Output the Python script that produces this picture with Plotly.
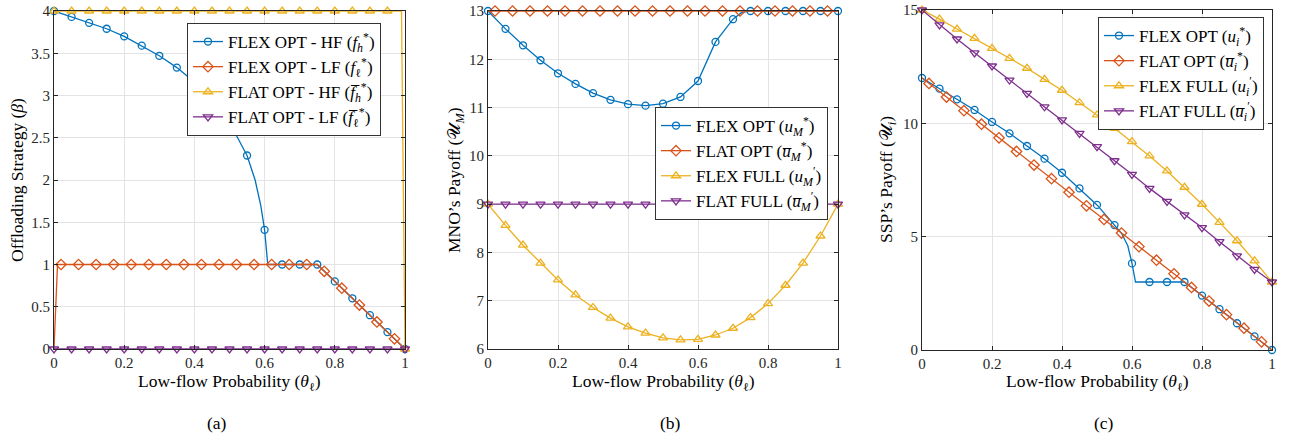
import plotly.graph_objects as go

# ---------------- data ----------------
THETA = [0.0, 0.05, 0.1, 0.15, 0.2, 0.25, 0.3, 0.35, 0.4, 0.45, 0.5,
         0.55, 0.6, 0.65, 0.7, 0.75, 0.8, 0.85, 0.9, 0.95, 1.0]
THETA_OFF = [0.02, 0.07, 0.12, 0.17, 0.22, 0.27, 0.32, 0.37, 0.42, 0.47,
             0.52, 0.57, 0.62, 0.67, 0.72, 0.77, 0.82, 0.87, 0.92, 0.97]

# (a) offloading strategy
a_flex_hf_mk = [4.00, 3.93, 3.86, 3.79, 3.70, 3.59, 3.47, 3.33, 3.16, 2.95, 2.68,
                2.29, 1.41, 1.00, 1.00, 1.00, 0.80, 0.60, 0.40, 0.20, 0.00]
a_flex_hf_line_x = [0.0, 0.05, 0.1, 0.15, 0.2, 0.25, 0.3, 0.35, 0.4, 0.45, 0.5,
                    0.55, 0.573, 0.589, 0.6, 0.609, 0.75, 1.0]
a_flex_hf_line_y = [4.00, 3.93, 3.86, 3.79, 3.70, 3.59, 3.47, 3.33, 3.16, 2.95, 2.68,
                    2.29, 2.00, 1.70, 1.41, 1.00, 1.00, 0.00]
a_flex_lf_mk = [1, 1, 1, 1, 1, 1, 1, 1, 1, 1, 1, 1, 1, 1, 1,
                0.92, 0.72, 0.52, 0.32, 0.12]
a_flex_lf_line_x = [0.0, 0.01, 0.75, 1.0]
a_flex_lf_line_y = [0.0, 1.0, 1.0, 0.0]
a_flat_hf_mk_x = [0.0, 0.05, 0.1, 0.15, 0.2, 0.25, 0.3, 0.35, 0.4, 0.45, 0.5,
                  0.55, 0.6, 0.65, 0.7, 0.75, 0.8, 0.85, 0.9, 0.95, 1.0]
a_flat_hf_mk = [4] * 20 + [0]
a_flat_hf_line_x = [0.0, 0.99, 1.0]
a_flat_hf_line_y = [4.0, 4.0, 0.0]
a_flat_lf_mk = [0] * 21

# (b) MNO's payoff
b_flex_opt_mk = [13.0, 12.63, 12.29, 11.98, 11.71, 11.49, 11.30, 11.16, 11.07, 11.04,
                 11.08, 11.22, 11.55, 12.36, 12.83, 13.0, 13.0, 13.0, 13.0, 13.0, 13.0]
b_flex_opt_line_x = [0.0, 0.05, 0.1, 0.15, 0.2, 0.25, 0.3, 0.35, 0.4, 0.45, 0.5,
                     0.55, 0.6, 0.65, 0.7, 0.725, 0.75, 1.0]
b_flex_opt_line_y = [13.0, 12.63, 12.29, 11.98, 11.71, 11.49, 11.30, 11.16, 11.07, 11.04,
                     11.08, 11.22, 11.55, 12.36, 12.83, 12.97, 13.0, 13.0]
b_flat_opt_mk = [13.0] * 20
b_flat_opt_line_x = [0.0, 1.0]
b_flat_opt_line_y = [13.0, 13.0]
b_flex_full = [9.0, 8.56, 8.15, 7.78, 7.43, 7.12, 6.86, 6.64, 6.46, 6.33, 6.23,
               6.19, 6.20, 6.29, 6.43, 6.65, 6.94, 7.32, 7.78, 8.34, 9.0]
b_flat_full = [9.0] * 21

# (c) SSP's payoff
c_flex_opt_mk = [12.0, 11.53, 11.06, 10.59, 10.06, 9.56, 9.0, 8.44, 7.82, 7.13, 6.40,
                 5.51, 3.82, 3.0, 3.0, 3.0, 2.40, 1.80, 1.18, 0.60, 0.0]
c_flex_opt_line_x = [0.0, 0.05, 0.1, 0.15, 0.2, 0.25, 0.3, 0.35, 0.4, 0.45, 0.5,
                     0.55, 0.57, 0.588, 0.6, 0.61, 0.75, 1.0]
c_flex_opt_line_y = [12.0, 11.53, 11.06, 10.59, 10.06, 9.56, 9.0, 8.44, 7.82, 7.13, 6.40,
                     5.51, 5.15, 4.6, 3.82, 3.0, 3.0, 0.0]
c_flat_opt_mk = [11.76, 11.16, 10.56, 9.96, 9.36, 8.76, 8.16, 7.56, 6.96, 6.36,
                 5.76, 5.16, 4.56, 3.96, 3.36, 2.76, 2.16, 1.56, 0.96, 0.36]
c_flat_opt_line_x = [0.0, 1.0]
c_flat_opt_line_y = [12.0, 0.0]
c_flex_full = [15.0, 14.6, 14.16, 13.75, 13.31, 12.87, 12.43, 11.94, 11.46, 10.91, 10.37,
               9.78, 9.19, 8.56, 7.90, 7.18, 6.43, 5.63, 4.82, 3.93, 3.0]
c_flat_full = [15.0, 14.34, 13.72, 13.11, 12.53, 11.91, 11.32, 10.73, 10.15, 9.56, 8.97,
               8.35, 7.75, 7.13, 6.56, 5.96, 5.40, 4.78, 4.15, 3.56, 3.0]

BLUE, ORANGE, YELLOW, PURPLE = "#0072BD", "#D95319", "#EDB120", "#7E2F8E"
SYM = {BLUE: ("circle-open", 7), ORANGE: ("diamond-open", 8),
       YELLOW: ("triangle-up-open", 8), PURPLE: ("triangle-down-open", 8)}

FONT = "'Liberation Serif', 'Times New Roman', serif"
LW = 1.3

fig = go.Figure()


def add_series(ax, legend, name, color, lx, ly, mx, my):
    xa = "x" if ax == 1 else f"x{ax}"
    ya = "y" if ax == 1 else f"y{ax}"
    sym, size = SYM[color]
    fig.add_trace(go.Scatter(x=lx, y=ly, mode="lines", xaxis=xa, yaxis=ya,
                             line=dict(color=color, width=LW), showlegend=False,
                             hoverinfo="skip"))
    fig.add_trace(go.Scatter(x=mx, y=my, mode="markers", xaxis=xa, yaxis=ya,
                             marker=dict(symbol=sym, size=size, color=color,
                                         line=dict(width=1.3, color=color)),
                             cliponaxis=False, showlegend=False))
    fig.add_trace(go.Scatter(x=[None], y=[None], mode="lines+markers", xaxis=xa, yaxis=ya,
                             name=name, legend=legend,
                             line=dict(color=color, width=LW),
                             marker=dict(symbol=sym, size=size, color=color,
                                         line=dict(width=1.3, color=color))))


# (a)
add_series(1, "legend", "FLEX OPT - HF (<i>f</i><sub><i>h</i></sub><sup>*</sup>)", BLUE,
           a_flex_hf_line_x, a_flex_hf_line_y, THETA, a_flex_hf_mk)
add_series(1, "legend", "FLEX OPT - LF (<i>f</i><sub>ℓ</sub><sup>*</sup>)", ORANGE,
           a_flex_lf_line_x, a_flex_lf_line_y, THETA_OFF, a_flex_lf_mk)
add_series(1, "legend", "FLAT OPT - HF (<i>f̅</i><sub><i>h</i></sub><sup>*</sup>)", YELLOW,
           a_flat_hf_line_x, a_flat_hf_line_y, a_flat_hf_mk_x, a_flat_hf_mk)
add_series(1, "legend", "FLAT OPT - LF (<i>f̅</i><sub>ℓ</sub><sup>*</sup>)", PURPLE,
           THETA, a_flat_lf_mk, THETA, a_flat_lf_mk)

# (b)
add_series(2, "legend2", "FLEX OPT (<i>u</i><sub><i>M</i></sub><sup>*</sup>)", BLUE,
           b_flex_opt_line_x, b_flex_opt_line_y, THETA, b_flex_opt_mk)
add_series(2, "legend2", "FLAT OPT (<i>u̅</i><sub><i>M</i></sub><sup>*</sup>)", ORANGE,
           b_flat_opt_line_x, b_flat_opt_line_y, THETA_OFF, b_flat_opt_mk)
add_series(2, "legend2", "FLEX FULL (<i>u</i><sub><i>M</i></sub><sup>′</sup>)", YELLOW,
           THETA, b_flex_full, THETA, b_flex_full)
add_series(2, "legend2", "FLAT FULL (<i>u̅</i><sub><i>M</i></sub><sup>′</sup>)", PURPLE,
           THETA, b_flat_full, THETA, b_flat_full)

# (c)
add_series(3, "legend3", "FLEX OPT (<i>u</i><sub><i>i</i></sub><sup>*</sup>)", BLUE,
           c_flex_opt_line_x, c_flex_opt_line_y, THETA, c_flex_opt_mk)
add_series(3, "legend3", "FLAT OPT (<i>u̅</i><sub><i>i</i></sub><sup>*</sup>)", ORANGE,
           c_flat_opt_line_x, c_flat_opt_line_y, THETA_OFF, c_flat_opt_mk)
add_series(3, "legend3", "FLEX FULL (<i>u</i><sub><i>i</i></sub><sup>′</sup>)", YELLOW,
           THETA, c_flex_full, THETA, c_flex_full)
add_series(3, "legend3", "FLAT FULL (<i>u̅</i><sub><i>i</i></sub><sup>′</sup>)", PURPLE,
           THETA, c_flat_full, THETA, c_flat_full)

W, H = 1293, 437
AX = "#262626"
GRID = "#e3e3e3"


def px_x(p):
    return p / W


def px_y(p):
    return 1 - p / H


axis_common = dict(showline=True, mirror="ticks", linecolor=AX, linewidth=1,
                   ticks="inside", ticklen=4, tickcolor=AX, tickwidth=1,
                   showgrid=True, gridcolor=GRID, gridwidth=1, zeroline=False,
                   automargin=False, ticklabeloverflow="allow",
                   tickfont=dict(family=FONT, size=15, color=AX))

panels = [
    dict(x0=54, x1=405, y0=11, y1=349, yr=[0, 4], dt=0.5),
    dict(x0=488, x1=838, y0=11, y1=349, yr=[6, 13], dt=1),
    dict(x0=922, x1=1272, y0=10, y1=350, yr=[0, 15], dt=5),
]
layout = dict(width=W, height=H, margin=dict(l=0, r=0, t=0, b=0, autoexpand=False),
              plot_bgcolor="white", paper_bgcolor="white",
              font=dict(family=FONT, color="#000000"))
for i, p in enumerate(panels, start=1):
    sx = "" if i == 1 else str(i)
    layout[f"xaxis{sx}"] = dict(domain=[px_x(p["x0"]), px_x(p["x1"])], range=[0, 1],
                                dtick=0.2, tick0=0, anchor=f"y{sx}", **axis_common)
    layout[f"yaxis{sx}"] = dict(domain=[px_y(p["y1"]), px_y(p["y0"])], range=p["yr"],
                                dtick=p["dt"], tick0=0, anchor=f"x{sx}", **axis_common)

legend_common = dict(bgcolor="white", bordercolor="#333333", borderwidth=1,
                     font=dict(family=FONT, size=17, color="#000000"),
                     xanchor="left", yanchor="top", itemwidth=30,
                     tracegroupgap=0)
layout["legend"] = dict(x=px_x(187), y=px_y(23), **legend_common)
layout["legend2"] = dict(x=px_x(655), y=px_y(107), **legend_common)
layout["legend3"] = dict(x=px_x(1098), y=px_y(17), **legend_common)

fig.update_layout(**layout)

ann = []
xtitle = "Low-flow Probability (<i>θ</i><sub>ℓ</sub>)"
TF = 17.5
for cx in [229.5, 663, 1097]:
    ann.append(dict(x=px_x(cx), y=px_y(382), xref="paper", yref="paper", text=xtitle,
                    showarrow=False, xanchor="center", yanchor="middle",
                    font=dict(family=FONT, size=TF, color="#000000")))
for cx, t in [(17, "Offloading Strategy (<i>β</i>)"),
              (455, "MNO’s Payoff (𝒰<sub><i>M</i></sub>)"),
              (887, "SSP’s Payoff (𝒰<sub><i>i</i></sub>)")]:
    ann.append(dict(x=px_x(cx), y=px_y(180), xref="paper", yref="paper", text=t,
                    textangle=-90, showarrow=False, xanchor="center", yanchor="middle",
                    font=dict(family=FONT, size=TF, color="#000000")))
for cx, t in [(217, "(a)"), (670, "(b)"), (1104, "(c)")]:
    ann.append(dict(x=px_x(cx), y=px_y(423), xref="paper", yref="paper", text=t,
                    showarrow=False, xanchor="center", yanchor="middle",
                    font=dict(family=FONT, size=TF, color="#000000")))
fig.update_layout(annotations=ann)

# remove the default 8px page margin so the figure fills the window exactly
fig.write_html("out.html",
               config={"displayModeBar": False},
               post_script="document.body.style.margin='0';document.body.style.overflow='hidden';")
